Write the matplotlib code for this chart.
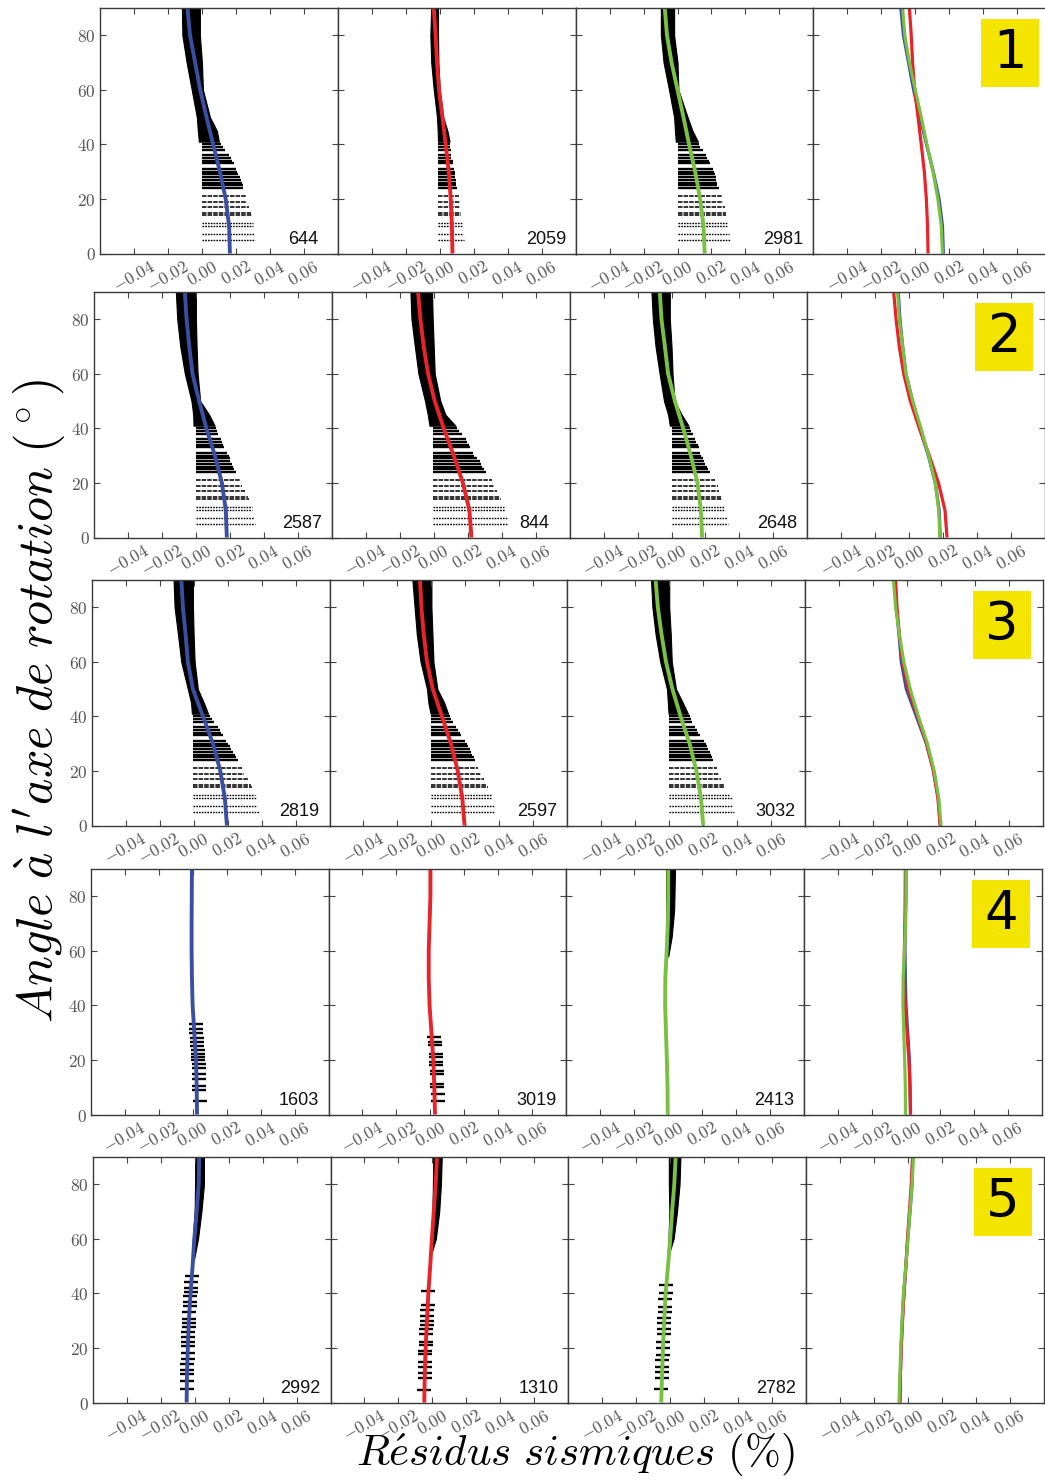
import numpy as np
import matplotlib
matplotlib.use('Agg')
import matplotlib.pyplot as plt
from matplotlib.patches import Rectangle

plt.rcParams['mathtext.fontset'] = 'cm'

# ---------------- data ----------------
ANGLES = [0, 10, 20, 30, 40, 50, 60, 70, 80, 90]

BLUE = [
    [0.0165, 0.0160, 0.0140, 0.0106, 0.0066, 0.0027, -0.0010, -0.0040, -0.0070, -0.0085],
    [0.0182, 0.0176, 0.0153, 0.0112, 0.0062, 0.0019, -0.0020, -0.0039, -0.0055, -0.0065],
    [0.0196, 0.0184, 0.0157, 0.0114, 0.0055, -0.0004, -0.0034, -0.0047, -0.0063, -0.0072],
    [0.0026, 0.0024, 0.0020, 0.0010, 0.0000, -0.0004, -0.0006, -0.0006, -0.0005, -0.0004],
    [-0.0047, -0.0045, -0.0040, -0.0034, -0.0024, -0.0012, -0.0002, 0.0012, 0.0024, 0.0027],
]
RED = [
    [0.0075, 0.0072, 0.0065, 0.0053, 0.0035, 0.0016, -0.0004, -0.0016, -0.0024, -0.0035],
    [0.0222, 0.0210, 0.0172, 0.0118, 0.0059, 0.0006, -0.0033, -0.0059, -0.0078, -0.0092],
    [0.0195, 0.0182, 0.0155, 0.0115, 0.0062, 0.0008, -0.0026, -0.0045, -0.0059, -0.0067],
    [0.0027, 0.0023, 0.0017, 0.0006, -0.0005, -0.0010, -0.0010, -0.0005, 0.0000, 0.0000],
    [-0.0048, -0.0045, -0.0040, -0.0032, -0.0024, -0.0013, -0.0003, 0.0008, 0.0019, 0.0027],
]
GREEN = [
    [0.0160, 0.0153, 0.0133, 0.0104, 0.0068, 0.0035, 0.0000, -0.0035, -0.0062, -0.0075],
    [0.0180, 0.0173, 0.0153, 0.0114, 0.0069, 0.0020, -0.0020, -0.0039, -0.0059, -0.0069],
    [0.0200, 0.0187, 0.0160, 0.0120, 0.0067, 0.0019, -0.0019, -0.0045, -0.0067, -0.0080],
    [-0.0003, -0.0004, -0.0008, -0.0013, -0.0018, -0.0017, -0.0009, -0.0002, 0.0000, 0.0000],
    [-0.0053, -0.0048, -0.0043, -0.0035, -0.0027, -0.0013, 0.0000, 0.0011, 0.0024, 0.0032],
]

COUNTS = [
    ['644', '2059', '2981'],
    ['2587', '844', '2648'],
    ['2819', '2597', '3032'],
    ['1603', '3019', '2413'],
    ['2992', '1310', '2782'],
]
ROW_IDS = ['1', '2', '3', '4', '5']

XTICKS = [-0.04, -0.02, 0.00, 0.02, 0.04, 0.06]
XTICK_LABELS = ['$-0.04$', '$-0.02$', '$0.00$', '$0.02$', '$0.04$', '$0.06$']
YTICKS = [0, 20, 40, 60, 80]
YTICK_LABELS = ['$0$', '$20$', '$40$', '$60$', '$80$']

# residual bands, rows 1-3: individual levels (angle) with right edge per panel
SEG_LEVELS = [5, 7, 10, 11, 14, 15, 17, 19, 21, 24, 25, 26, 27, 28, 29, 30, 31, 33, 34, 35, 36, 38, 39, 40]
SEG_LEFT = {
    (0, 0): 0.0, (0, 1): -0.001, (0, 2): 0.0,
    (1, 0): 0.0, (1, 1): -0.0005, (1, 2): 0.0,
    (2, 0): -0.0002, (2, 1): 0.0, (2, 2): 0.0,
}
SEG_RIGHT = {
    (0, 0): [.0310, .0305, .0300, .0298, .0292, .0290, .0280, .0268, .0258, .0244, .0240, .0234,
             .0228, .0222, .0214, .0206, .0200, .0188, .0180, .0172, .0162, .0138, .0124, .0110],
    (0, 1): [.0141, .0140, .0133, .0132, .0128, .0127, .0121, .0117, .0112, .0102, .0098, .0096,
             .0094, .0092, .0090, .0088, .0085, .0080, .0076, .0069, .0067, .0064, .0062, .0059],
    (0, 2): [.0310, .0305, .0298, .0296, .0288, .0284, .0278, .0270, .0260, .0243, .0235, .0232,
             .0228, .0225, .0220, .0216, .0208, .0192, .0184, .0176, .0168, .0150, .0135, .0125],
    (1, 0): [.0349, .0343, .0333, .0328, .0312, .0304, .0288, .0273, .0257, .0238, .0225, .0218,
             .0210, .0203, .0198, .0192, .0185, .0168, .0160, .0153, .0146, .0132, .0125, .0118],
    (1, 1): [.0437, .0431, .0418, .0414, .0399, .0392, .0375, .0357, .0341, .0305, .0294, .0286,
             .0278, .0270, .0252, .0238, .0229, .0213, .0205, .0198, .0190, .0165, .0150, .0137],
    (1, 2): [.0330, .0325, .0314, .0310, .0296, .0290, .0280, .0272, .0258, .0226, .0216, .0208,
             .0200, .0192, .0184, .0176, .0170, .0159, .0153, .0147, .0139, .0124, .0116, .0108],
    (2, 0): [.0384, .0376, .0365, .0360, .0344, .0339, .0318, .0298, .0283, .0260, .0251, .0241,
             .0231, .0222, .0212, .0202, .0192, .0173, .0163, .0153, .0142, .0120, .0109, .0098],
    (2, 1): [.0375, .0368, .0356, .0351, .0335, .0329, .0310, .0292, .0277, .0256, .0249, .0241,
             .0233, .0225, .0217, .0209, .0198, .0177, .0166, .0155, .0145, .0126, .0117, .0107],
    (2, 2): [.0382, .0376, .0367, .0358, .0330, .0321, .0307, .0293, .0280, .0260, .0254, .0246,
             .0238, .0230, .0222, .0214, .0203, .0182, .0172, .0161, .0153, .0136, .0128, .0120],
}

# dense upper part of the residual clouds (angle, left edge, right edge)
TOP_ANG = {
    (0, 0): [41, 45, 50, 60, 70, 80, 90], (0, 1): [41, 45, 50, 60, 70, 80, 90], (0, 2): [41, 45, 50, 60, 70, 80, 90],
    (1, 0): [41, 45, 50, 60, 70, 80, 90], (1, 1): [41, 45, 50, 60, 70, 80, 90], (1, 2): [41, 45, 50, 60, 70, 80, 90],
    (2, 0): [41, 45, 50, 60, 70, 80, 90], (2, 1): [41, 45, 50, 60, 70, 80, 90], (2, 2): [41, 45, 50, 60, 70, 80, 90],
    (3, 2): [58, 65, 75, 90],
    (4, 0): [52, 60, 70, 80, 90], (4, 1): [55, 60, 70, 80, 90], (4, 2): [55, 60, 70, 80, 90],
}
TOP_LEFT = {
    (0, 0): [-0.0018, -0.0024, -0.0030, -0.0060, -0.0090, -0.0115, -0.0118],
    (0, 1): [-0.0010, -0.0012, -0.0016, -0.0035, -0.0050, -0.0055, -0.0050],
    (0, 2): [-0.0010, -0.0015, -0.0020, -0.0050, -0.0082, -0.0098, -0.0098],
    (1, 0): [-0.0014, -0.0016, -0.0026, -0.0065, -0.0092, -0.0110, -0.0118],
    (1, 1): [-0.0025, -0.0035, -0.0051, -0.0090, -0.0111, -0.0131, -0.0137],
    (1, 2): [-0.0010, -0.0020, -0.0044, -0.0070, -0.0094, -0.0110, -0.0118],
    (2, 0): [-0.0010, -0.0015, -0.0034, -0.0073, -0.0092, -0.0112, -0.0118],
    (2, 1): [-0.0005, -0.0018, -0.0026, -0.0064, -0.0086, -0.0099, -0.0112],
    (2, 2): [-0.0004, -0.0008, -0.0013, -0.0053, -0.0080, -0.0099, -0.0107],
    (3, 2): [-0.0003, -0.0008, -0.0012, -0.0013],
    (4, 0): [-0.0015, -0.0010, 0.0000, 0.0003, 0.0003],
    (4, 1): [-0.0012, -0.0008, 0.0000, 0.0003, 0.0005],
    (4, 2): [-0.0015, -0.0010, -0.0005, -0.0008, -0.0008],
}
TOP_RIGHT = {
    (0, 0): [0.0100, 0.0088, 0.0047, 0.0006, 0.0000, -0.0012, -0.0012],
    (0, 1): [0.0058, 0.0045, 0.0020, 0.0000, -0.0008, -0.0010, -0.0010],
    (0, 2): [0.0120, 0.0088, 0.0059, 0.0005, 0.0000, -0.0020, -0.0020],
    (1, 0): [0.0110, 0.0078, 0.0025, 0.0010, 0.0004, 0.0000, 0.0000],
    (1, 1): [0.0128, 0.0069, 0.0039, 0.0006, 0.0000, -0.0006, -0.0010],
    (1, 2): [0.0100, 0.0060, 0.0018, 0.0006, 0.0000, -0.0010, -0.0010],
    (2, 0): [0.0085, 0.0060, 0.0025, 0.0006, 0.0000, -0.0004, -0.0004],
    (2, 1): [0.0098, 0.0075, 0.0035, 0.0012, 0.0006, 0.0000, 0.0000],
    (2, 2): [0.0110, 0.0080, 0.0040, 0.0015, 0.0009, 0.0000, 0.0000],
    (3, 2): [0.0000, 0.0020, 0.0035, 0.0040],
    (4, 0): [-0.0005, 0.0020, 0.0040, 0.0055, 0.0055],
    (4, 1): [-0.0004, 0.0020, 0.0040, 0.0050, 0.0055],
    (4, 2): [-0.0005, 0.0020, 0.0040, 0.0055, 0.0060],
}

# individual residual marks (rows 4-5)
MARK_ANG = {
    (3, 0): [5, 9, 10.5, 13, 15, 17, 18.5, 20, 21, 22, 23.5, 25, 26.5, 28, 30, 31.5, 33],
    (3, 1): [5, 7.5, 10, 11.3, 15, 16, 18, 19.2, 21, 22.3, 25.4, 26.6, 28.4],
    (4, 0): [5, 8, 10.4, 12, 14, 15.8, 18, 20.6, 22, 24, 25.8, 27.5, 29, 30.6, 33, 35.5, 37, 39, 40.4, 42, 44, 46.3],
    (4, 1): [4.7, 9, 10.8, 13, 15, 17.6, 19, 21, 22.2, 25, 27, 28.5, 30, 31.6, 34, 35.9, 40.8],
    (4, 2): [5, 9, 11, 13, 15.5, 17.5, 20, 22, 25, 27, 29, 31, 33, 35, 38, 40, 43],
}
MARK_X = {
    (3, 0): [0.0044, 0.0040, 0.0040, 0.0038, 0.0038, 0.0035, 0.0035, 0.0033, 0.0033, 0.0030, 0.0030,
             0.0028, 0.0026, 0.0025, 0.0022, 0.0020, 0.0018],
    (3, 1): [0.0045, 0.0042, 0.0040, 0.0040, 0.0038, 0.0038, 0.0035, 0.0035, 0.0033, 0.0030, 0.0028,
             0.0026, 0.0024],
    (4, 0): [-0.0045, -0.0044, -0.0043, -0.0042, -0.0042, -0.0041, -0.0040, -0.0039, -0.0038, -0.0037,
             -0.0036, -0.0035, -0.0034, -0.0033, -0.0031, -0.0029, -0.0027, -0.0025, -0.0024, -0.0022,
             -0.0020, -0.0018],
    (4, 1): [-0.0047, -0.0046, -0.0045, -0.0044, -0.0043, -0.0042, -0.0041, -0.0040, -0.0039, -0.0037,
             -0.0035, -0.0034, -0.0032, -0.0031, -0.0029, -0.0027, -0.0024],
    (4, 2): [-0.0052, -0.0050, -0.0048, -0.0047, -0.0046, -0.0045, -0.0043, -0.0042, -0.0039, -0.0037,
             -0.0036, -0.0034, -0.0032, -0.0030, -0.0029, -0.0027, -0.0024],
}

COLORS = ['#3b4fa2', '#e8232a', '#79c043']
YELLOW = '#f4e500'

# ---------------- layout ----------------
W, H = 1045, 1481
fig = plt.figure(figsize=(W / 100, H / 100), dpi=100)

ROW_TOP_PX = [8, 292, 580, 869, 1157]
ROW_LEFT_PX = [100, 94, 91.7, 90.7, 92.7]
PANEL_W_PX = 237.8
PANEL_H_PX = 245.5

series = [BLUE, RED, GREEN]

for r in range(5):
    for c in range(4):
        left = (ROW_LEFT_PX[r] + c * PANEL_W_PX) / W
        bottom = 1 - (ROW_TOP_PX[r] + PANEL_H_PX) / H
        ax = fig.add_axes([left, bottom, PANEL_W_PX / W, PANEL_H_PX / H])
        ax.set_xlim(-0.06, 0.08)
        ax.set_ylim(0, 90)
        for sp in ax.spines.values():
            sp.set_color('#3a3a3a')
            sp.set_linewidth(1.0)
        ax.set_xticks(XTICKS)
        ax.set_xticklabels(XTICK_LABELS, rotation=30, ha='center', fontsize=12.5, color='#555555')
        ax.set_yticks(YTICKS)
        ax.set_yticklabels(YTICK_LABELS, fontsize=12.5, color='#555555')
        ax.tick_params(direction='in', length=4, width=0.8, color='#444444',
                       top=True, right=True, pad=3)
        if c > 0:
            ax.tick_params(labelleft=False)

        key = (r, c)
        if c < 3:
            if key in SEG_RIGHT:
                lv = np.array(SEG_LEVELS)
                rt = np.array(SEG_RIGHT[key])
                lf = SEG_LEFT[key]
                m1 = lv < 12
                m2 = (lv >= 12) & (lv < 23)
                m3 = lv >= 23
                ax.hlines(lv[m1], lf, rt[m1], colors='k', lw=1.0, linestyles=(0, (1.2, 0.8)))
                ax.hlines(lv[m2], lf, rt[m2], colors='#222222', lw=1.3, linestyles=(0, (2.5, 0.6)))
                ax.hlines(lv[m3], lf, rt[m3], colors='k', lw=1.7)
            if key in TOP_ANG:
                ax.fill_betweenx(TOP_ANG[key], TOP_LEFT[key], TOP_RIGHT[key], color='k', lw=0.8)
            if key in MARK_ANG:
                ax.plot(MARK_X[key], MARK_ANG[key], ls='none', marker='_', ms=10, mew=1.7, color='k')
            ax.plot(series[c][r], ANGLES, color=COLORS[c], lw=2.8, solid_capstyle='butt')
            ax.text(0.79, 0.04, COUNTS[r][c], transform=ax.transAxes, ha='left', va='baseline',
                    fontsize=13, family='Liberation Sans', color='#111111')
        else:
            for k in [0, 1, 2]:
                ax.plot(series[k][r], ANGLES, color=COLORS[k], lw=2.3, solid_capstyle='butt')
            ax.add_patch(Rectangle((0.705, 0.677), 0.245, 0.279, transform=ax.transAxes,
                                   facecolor=YELLOW, edgecolor='none', zorder=5))
            ax.text(0.8275, 0.8165, ROW_IDS[r], transform=ax.transAxes, ha='center', va='center',
                    fontsize=38, family='DejaVu Sans', color='black', zorder=6)

fig.text(0.038, 0.527, r"$Angle\ \grave{a}\ l'axe\ de\ rotation\ (\,^{\circ}\,)$",
         rotation=90, ha='center', va='center', fontsize=36)
fig.text(0.551, 0.0176, r"$R\acute{e}sidus\ sismiques\ (\%)$",
         ha='center', va='center', fontsize=31)

fig.savefig('out.png', dpi=100)
